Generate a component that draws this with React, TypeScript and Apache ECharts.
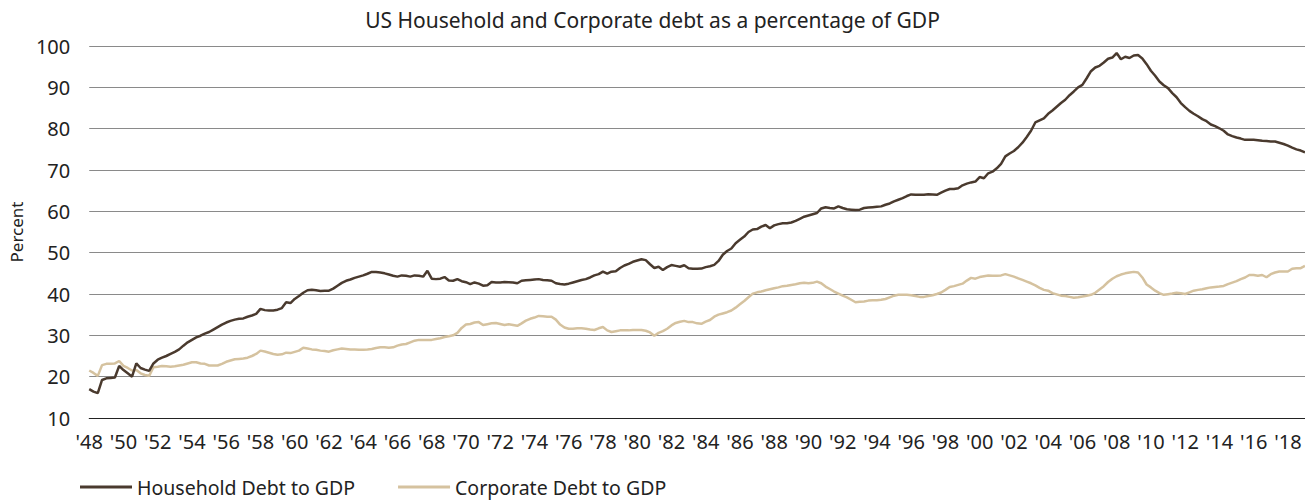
import React, { useEffect, useRef } from "react";
import * as echarts from "echarts";

const startYear = 1948;

const household: number[] = [
  // 1948
  17.0, 16.4, 16.0, 19.2,
  19.6, 19.7, 19.8, 22.6,
  21.6, 20.8, 20.0, 23.2,
  22.1, 21.7, 21.4, 23.2,
  24.1, 24.6, 25.0, 25.5,
  26.0, 26.6, 27.5, 28.3,
  28.9, 29.5, 29.9, 30.4,
  30.8, 31.4, 32.0, 32.6,
  33.1, 33.5, 33.8, 34.0,
  34.1, 34.5, 34.8, 35.2,
  // 1958
  36.4, 36.1, 36.0, 36.0,
  36.2, 36.6, 38.0, 37.8,
  38.8, 39.5, 40.3, 40.9,
  41.0, 40.9, 40.75, 40.8,
  40.8, 41.3, 42.0, 42.7,
  43.2, 43.5, 43.9, 44.2,
  44.5, 44.9, 45.35, 45.3,
  45.2, 45.0, 44.7, 44.4,
  44.2, 44.5, 44.4, 44.2,
  44.5, 44.4, 44.2, 45.6,
  // 1968
  43.7, 43.6, 43.7, 44.1,
  43.25, 43.2, 43.6, 43.1,
  42.85, 42.4, 42.8, 42.5,
  42.0, 42.1, 42.9, 42.8,
  42.8, 42.9, 42.85, 42.8,
  42.6, 43.2, 43.3, 43.4,
  43.5, 43.6, 43.4, 43.3,
  43.2, 42.6, 42.4, 42.3,
  42.5, 42.8, 43.1, 43.4,
  43.6, 44.0, 44.5, 44.8,
  // 1978
  45.4, 44.9, 45.4, 45.5,
  46.3, 46.9, 47.3, 47.8,
  48.1, 48.4, 48.2, 47.2,
  46.3, 46.6, 45.8, 46.5,
  47.0, 46.8, 46.6, 46.95,
  46.25, 46.1, 46.1, 46.15,
  46.5, 46.7, 47.05, 48.0,
  49.5, 50.4, 51.0, 52.3,
  53.1, 53.9, 55.0, 55.6,
  55.7, 56.3, 56.7, 55.9,
  // 1988
  56.6, 56.9, 57.1, 57.1,
  57.3, 57.7, 58.2, 58.7,
  59.0, 59.3, 59.6, 60.7,
  61.0, 60.8, 60.7, 61.2,
  60.8, 60.5, 60.4, 60.3,
  60.4, 60.8, 60.9, 61.0,
  61.1, 61.2, 61.6, 61.9,
  62.4, 62.8, 63.2, 63.7,
  64.1, 64.0, 64.0, 64.0,
  64.15, 64.1, 64.0, 64.5,
  // 1998
  65.0, 65.4, 65.4, 65.6,
  66.3, 66.7, 67.0, 67.2,
  68.3, 68.0, 69.2, 69.6,
  70.4, 71.5, 73.3, 74.0,
  74.6, 75.5, 76.6, 78.0,
  79.5, 81.5, 82.0, 82.5,
  83.6, 84.4, 85.3, 86.2,
  87.0, 88.1, 89.0, 90.0,
  90.6, 92.2, 93.9, 94.8,
  95.2, 96.0, 96.9, 97.2,
  // 2008
  98.3, 96.8, 97.4, 97.1,
  97.7, 97.8, 97.0, 95.6,
  94.0, 92.8, 91.4, 90.5,
  89.8, 88.6, 87.6, 86.2,
  85.2, 84.3, 83.6, 83.0,
  82.3, 81.8, 81.0, 80.6,
  80.1, 79.5, 78.6, 78.2,
  77.85, 77.6, 77.3, 77.3,
  77.3, 77.2, 77.05, 77.0,
  76.9, 76.9, 76.6, 76.3,
  // 2018
  75.9, 75.4, 75.0, 74.7,
  74.3,
];

const corporate: number[] = [
  // 1948
  21.5, 20.9, 20.2, 22.8,
  23.1, 23.1, 23.2, 23.8,
  22.6, 22.1, 21.5, 21.6,
  20.8, 20.4, 20.2, 22.3,
  22.4, 22.6, 22.5, 22.4,
  22.5, 22.7, 22.9, 23.2,
  23.5, 23.5, 23.2, 23.1,
  22.7, 22.7, 22.7, 23.1,
  23.6, 23.9, 24.2, 24.3,
  24.4, 24.6, 25.0, 25.5,
  // 1958
  26.3, 26.1, 25.8, 25.5,
  25.3, 25.4, 25.8, 25.7,
  26.0, 26.3, 27.0, 26.8,
  26.6, 26.5, 26.3, 26.2,
  26.05, 26.4, 26.6, 26.8,
  26.7, 26.6, 26.6, 26.5,
  26.5, 26.6, 26.7, 26.95,
  27.1, 27.1, 27.0, 27.1,
  27.5, 27.8, 27.9, 28.3,
  28.7, 28.9, 28.9, 28.9,
  // 1968
  28.9, 29.1, 29.3, 29.6,
  29.8, 30.0, 30.6, 31.8,
  32.6, 32.75, 33.1, 33.2,
  32.5, 32.7, 32.9, 33.0,
  32.75, 32.5, 32.7, 32.5,
  32.3, 32.9, 33.55, 34.0,
  34.3, 34.7, 34.6, 34.5,
  34.5, 33.8, 32.6, 31.9,
  31.6, 31.6, 31.7, 31.7,
  31.6, 31.4, 31.3, 31.7,
  // 1978
  32.0, 31.2, 30.8, 31.0,
  31.2, 31.2, 31.2, 31.3,
  31.3, 31.3, 31.1, 30.7,
  29.9, 30.6, 31.0, 31.6,
  32.4, 33.0, 33.3, 33.5,
  33.2, 33.2, 32.9, 32.8,
  33.3, 33.7, 34.5, 35.0,
  35.3, 35.6, 36.0, 36.7,
  37.5, 38.3, 39.2, 40.1,
  40.4, 40.6, 40.9, 41.15,
  // 1988
  41.4, 41.6, 41.9, 42.0,
  42.2, 42.35, 42.6, 42.7,
  42.6, 42.7, 43.0, 42.6,
  41.8, 41.2, 40.6, 40.1,
  39.6, 39.2, 38.6, 38.0,
  38.1, 38.2, 38.4, 38.5,
  38.5, 38.6, 38.8, 39.2,
  39.6, 39.8, 39.8, 39.8,
  39.7, 39.5, 39.3, 39.3,
  39.5, 39.7, 40.0, 40.35,
  // 1998
  41.0, 41.7, 41.9, 42.2,
  42.5, 43.25, 43.9, 43.7,
  44.1, 44.3, 44.45, 44.4,
  44.4, 44.5, 44.8, 44.5,
  44.2, 43.8, 43.4, 43.0,
  42.6, 42.1, 41.5, 41.0,
  40.8, 40.2, 39.9, 39.6,
  39.5, 39.3, 39.1, 39.2,
  39.4, 39.6, 39.8, 40.3,
  41.1, 41.9, 42.9, 43.7,
  // 2008
  44.3, 44.7, 45.0, 45.2,
  45.35, 45.2, 44.0, 42.3,
  41.6, 40.8, 40.2, 39.8,
  39.95, 40.1, 40.3, 40.2,
  40.0, 40.4, 40.8, 41.0,
  41.15, 41.4, 41.6, 41.7,
  41.8, 41.95, 42.4, 42.75,
  43.1, 43.6, 44.0, 44.6,
  44.6, 44.4, 44.6, 44.05,
  44.8, 45.2, 45.45, 45.45,
  // 2018
  45.45, 46.1, 46.25, 46.25,
  46.8,
];

const quarters: string[] = household.map((_, i) => {
  const y = startYear + Math.floor(i / 4);
  return `${y} Q${(i % 4) + 1}`;
});

const yTicks = { min: 10, max: 100, interval: 10 };

const FONT = "'Noto Sans', 'Open Sans', sans-serif";

export default function App() {
  const ref = useRef<HTMLDivElement>(null);
  useEffect(() => {
    if (!ref.current) return;
    const chart = echarts.init(ref.current, null, { renderer: "svg" });
    chart.setOption({
      animation: false,
      backgroundColor: "#ffffff",
      textStyle: { fontFamily: FONT, color: "#222" },
      title: {
        text: "US Household and Corporate debt as a percentage of GDP",
        left: "center",
        top: 4,
        textStyle: { fontFamily: FONT, fontSize: 21, fontWeight: "normal", color: "#222" },
      },
      legend: {
        left: 80,
        top: 476,
        itemWidth: 52,
        itemHeight: 3,
        itemGap: 43,
        icon: "rect",
        padding: 0,
        textStyle: { fontFamily: FONT, fontSize: 19.5, color: "#222", lineHeight: 22 },
        data: ["Household Debt to GDP", "Corporate Debt to GDP"],
      },
      grid: { left: 79, right: 0, top: 46, bottom: 83, containLabel: false },
      xAxis: {
        type: "category",
        data: quarters,
        boundaryGap: false,
        axisLine: { show: true, lineStyle: { color: "#222", width: 1 } },
        axisTick: { show: false },
        axisLabel: {
          interval: 7,
          margin: 13,
          fontSize: 20,
          fontFamily: FONT,
          color: "#222",
          formatter: (v: string) => "'" + v.slice(2, 4),
        },
      },
      yAxis: {
        type: "value",
        min: yTicks.min,
        max: yTicks.max,
        interval: yTicks.interval,
        name: "Percent",
        nameLocation: "middle",
        nameRotate: 90,
        nameGap: 58,
        nameTextStyle: { fontFamily: FONT, fontSize: 17, color: "#222" },
        axisLine: { show: false },
        axisTick: { show: false },
        axisLabel: { margin: 19, fontSize: 20, fontFamily: FONT, color: "#222" },
        splitLine: { lineStyle: { color: "#8a8a8a", width: 1 } },
      },
      series: [
        {
          name: "Household Debt to GDP",
          type: "line",
          data: household,
          symbol: "none",
          lineStyle: { color: "#4a3a2e", width: 2.5 },
          itemStyle: { color: "#4a3a2e" },
          z: 3,
        },
        {
          name: "Corporate Debt to GDP",
          type: "line",
          data: corporate,
          symbol: "none",
          lineStyle: { color: "#d5c29f", width: 2.5 },
          itemStyle: { color: "#d5c29f" },
          z: 2,
        },
      ],
    });
    return () => chart.dispose();
  }, []);
  return (
    <div
      ref={ref}
      style={{ position: "absolute", left: 0, top: 0, width: 1305, height: 501 }}
    />
  );
}
